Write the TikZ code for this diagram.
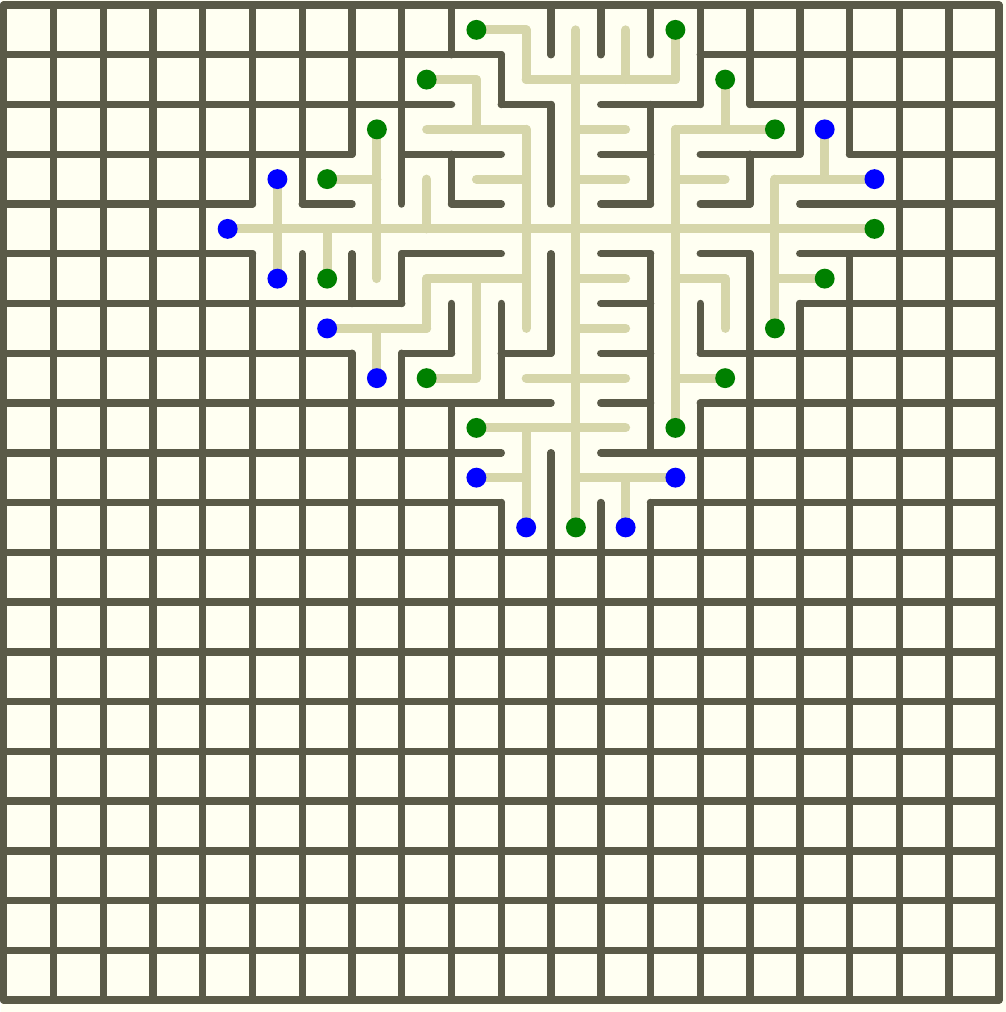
\documentclass[tikz,border=0pt]{standalone}
\usepackage{tikz}
\definecolor{mazebg}{RGB}{255,255,242}
\definecolor{mazewall}{RGB}{90,90,72}
\definecolor{mazetrail}{RGB}{214,214,170}
\definecolor{dotgreen}{RGB}{0,128,0}
\definecolor{dotblue}{RGB}{0,0,255}

\begin{document}
\begin{tikzpicture}[
  wall/.style={draw=mazewall,line width=1.5mm,line cap=round},
  trail/.style={draw=mazetrail,line width=1.8mm,line cap=round},
  gdot/.style={circle,fill=dotgreen,inner sep=0pt,minimum size=4mm},
  bdot/.style={circle,fill=dotblue,inner sep=0pt,minimum size=4mm}]
  \fill[mazebg] (-0.05,0.1) rectangle (20.14,-20.24);
  % cell centres
  \foreach \c in {0,...,19}
    \foreach \r in {0,...,19}
      \coordinate (c\c-\r) at (\c+0.5,-\r-0.5);
  % passages to the right neighbour
  \foreach \c/\r in {9/0,
      8/1,10/1,11/1,12/1,
      8/2,9/2,11/2,13/2,14/2,
      6/3,9/3,11/3,13/3,15/3,16/3,
      4/4,5/4,6/4,7/4,8/4,9/4,10/4,11/4,12/4,13/4,14/4,15/4,16/4,
      8/5,9/5,11/5,13/5,15/5,
      6/6,7/6,11/6,
      8/7,10/7,11/7,13/7,
      9/8,10/8,11/8,
      9/9,11/9,12/9}{
    \pgfmathtruncatemacro\n{\c+1}
    \expandafter\gdef\csname wv\n-\r\endcsname{x}
    \draw[trail] (c\c-\r) -- (c\n-\r);
  }
  % passages to the neighbour below
  \foreach \c/\r in {5/3,5/4,6/4,
      7/2,7/3,7/4,7/6,
      8/3,8/5,
      9/1,9/5,9/6,
      10/0,10/2,10/3,10/4,10/5,10/8,10/9,
      11/0,11/1,11/2,11/3,11/4,11/5,11/6,11/7,11/8,11/9,
      12/0,12/9,
      13/0,13/2,13/3,13/4,13/5,13/6,13/7,
      14/1,14/5,
      15/3,15/4,15/5,
      16/2}{
    \pgfmathtruncatemacro\n{\r+1}
    \expandafter\gdef\csname wh\c-\n\endcsname{x}
    \draw[trail] (c\c-\r) -- (c\c-\n);
  }
  % walls left standing
  \foreach \c in {0,...,20}
    \foreach \r in {0,...,19}{
      \ifcsname wv\c-\r\endcsname\else
        \draw[wall] (\c,-\r) -- (\c,-\r-1);
      \fi
    }
  \foreach \r in {0,...,20}
    \foreach \c in {0,...,19}{
      \ifcsname wh\c-\r\endcsname\else
        \draw[wall] (\c,-\r) -- (\c+1,-\r);
      \fi
    }
  % marked cells
  \foreach \p in {9-0,13-0,8-1,14-1,7-2,15-2,6-3,17-4,6-5,16-5,15-6,8-7,14-7,9-8,13-8,11-10}
    \node[gdot] (g\p) at (c\p) {};
  \foreach \p in {16-2,5-3,17-3,4-4,5-5,6-6,7-7,9-9,13-9,10-10,12-10}
    \node[bdot] (b\p) at (c\p) {};
\end{tikzpicture}
\end{document}
